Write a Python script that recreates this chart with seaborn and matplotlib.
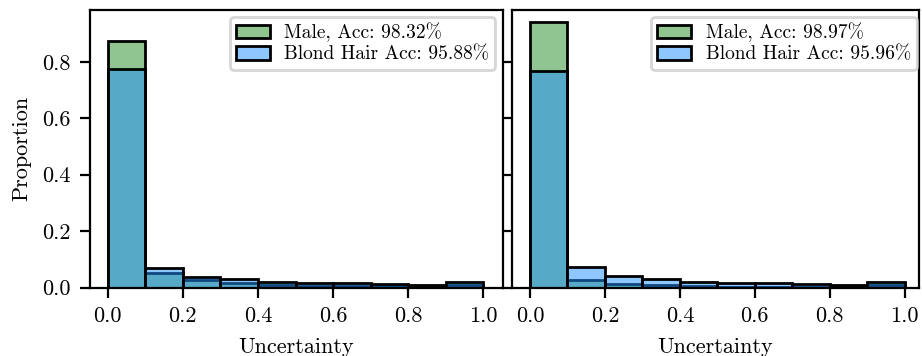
import numpy as np
import pandas as pd
import matplotlib
matplotlib.use("Agg")
import matplotlib.pyplot as plt
import seaborn as sns

# Histogram bin edges of the uncertainty score
bin_edges = [0.0, 0.1, 0.2, 0.3, 0.4, 0.5, 0.6, 0.7, 0.8, 0.9, 1.0]

# Per-bin proportions, left model
male_left = [0.874, 0.050, 0.025, 0.015, 0.009, 0.007, 0.005, 0.004, 0.003, 0.008]
blond_left = [0.775, 0.069, 0.038, 0.029, 0.021, 0.017, 0.015, 0.011, 0.009, 0.018]

# Per-bin proportions, right model
male_right = [0.940, 0.027, 0.011, 0.008, 0.005, 0.003, 0.002, 0.001, 0.001, 0.008]
blond_right = [0.767, 0.074, 0.041, 0.029, 0.021, 0.017, 0.015, 0.011, 0.009, 0.018]

male_acc = ["98.32", "98.97"]
blond_acc = ["95.88", "95.96"]

x_ticks = [0.0, 0.2, 0.4, 0.6, 0.8, 1.0]
y_ticks = [0.0, 0.2, 0.4, 0.6, 0.8]

plt.rcParams.update({
    "font.family": "serif",
    "font.serif": ["cmr10"],
    "mathtext.fontset": "cm",
    "axes.formatter.use_mathtext": True,
    "axes.unicode_minus": False,
    "font.size": 8,
    "axes.edgecolor": "black",
    "axes.linewidth": 0.8,
})

fig = plt.figure(figsize=(4.61, 1.78), dpi=200)
W, H = 922.0, 356.0
bottom = 1 - 287.5 / H
height = (287.5 - 10) / H
ax1 = fig.add_axes([90 / W, bottom, (503 - 90) / W, height])
ax2 = fig.add_axes([512 / W, bottom, (919 - 512) / W, height], sharey=ax1)

centers = [(a + b) / 2 for a, b in zip(bin_edges[:-1], bin_edges[1:])]

panels = [
    (ax1, male_left, blond_left, male_acc[0], blond_acc[0], 495),
    (ax2, male_right, blond_right, male_acc[1], blond_acc[1], 917),
]

for ax, male, blond, macc, bacc, leg_x in panels:
    df = pd.DataFrame({"Uncertainty": centers, "male": male, "blond": blond})
    sns.histplot(data=df, x="Uncertainty", weights="male", bins=bin_edges,
                 stat="count", color="forestgreen", alpha=0.5,
                 edgecolor="black", linewidth=1.0,
                 label=f"Male, Acc: {macc}%", ax=ax)
    sns.histplot(data=df, x="Uncertainty", weights="blond", bins=bin_edges,
                 stat="count", color="dodgerblue", alpha=0.5,
                 edgecolor="black", linewidth=1.0,
                 label=f"Blond Hair Acc: {bacc}%", ax=ax)
    ax.set_xticks(x_ticks)
    ax.set_xticklabels([f"{t:.1f}" for t in x_ticks])
    ax.set_xlabel("Uncertainty")
    ax.legend(loc="upper right", fontsize=7, framealpha=0.8, edgecolor="0.8",
              borderaxespad=0, bbox_to_anchor=(leg_x / W, 1 - 17 / H),
              bbox_transform=fig.transFigure,
              handlelength=1.75, borderpad=0.3, labelspacing=0.17,
              handletextpad=0.75)

ax1.set_xlim(-0.047, 1.052)
ax2.set_xlim(-0.048, 1.038)
ax1.set_yticks(y_ticks)
ax1.set_yticklabels([f"{t:.1f}" for t in y_ticks])
ax1.set_ylim(0, 0.984)
ax1.set_ylabel("Proportion")
ax2.set_ylabel("")
ax2.tick_params(labelleft=False)

fig.savefig("out.png", dpi=200)
